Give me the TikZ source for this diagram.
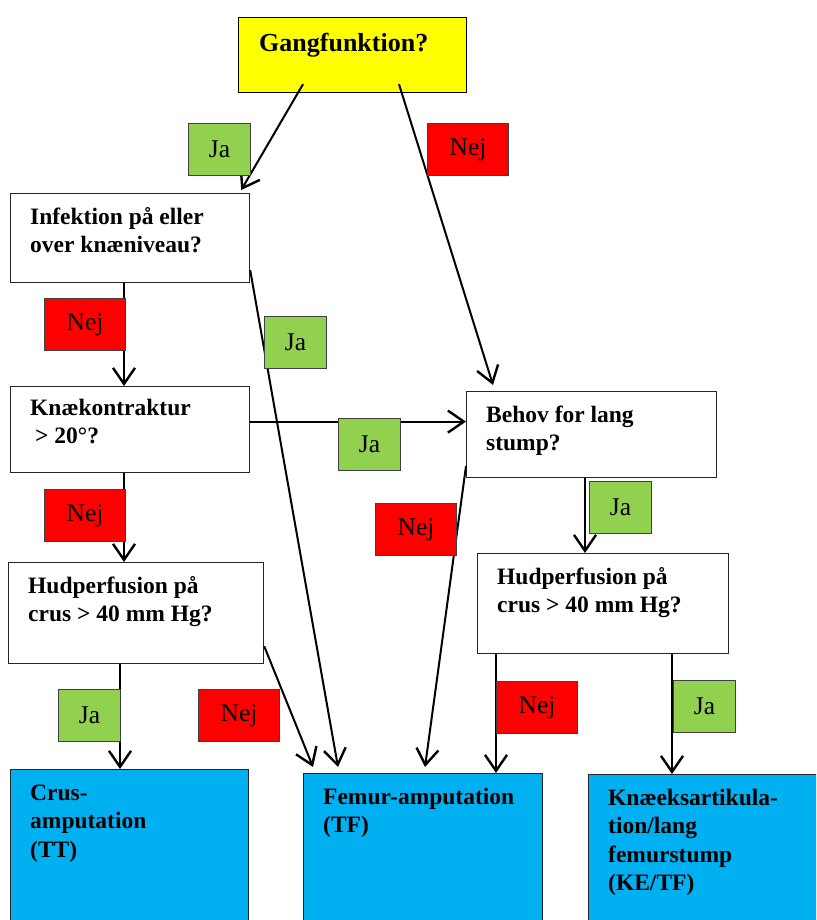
\documentclass[tikz,border=0pt]{standalone}
\usepackage{fontspec}
\setmainfont{Liberation Serif}
\usetikzlibrary{arrows.meta}
\definecolor{gulgul}{HTML}{FFFF00}
\definecolor{jagron}{HTML}{92D050}
\definecolor{nejrod}{HTML}{FF0000}
\definecolor{resbla}{HTML}{00B0F0}
\newcommand{\qfont}{\fontsize{23.5}{28.5}\selectfont\bfseries}
\newcommand{\gfont}{\fontsize{26}{30}\selectfont\bfseries}
\newcommand{\lfont}{\fontsize{25.5}{28}\selectfont}
\newcommand{\qt}[1]{\parbox[t]{300pt}{\raggedright #1}}
\begin{document}
\begin{tikzpicture}[x=1pt,y=-1pt,
  qbox/.style={draw=black!85,line width=1.2pt,fill=white,anchor=north west,inner sep=0pt},
  qtxt/.style={anchor=base west,inner sep=0pt,font=\qfont,xshift=20pt,yshift=-31pt},
  jabox/.style={draw=black!75,line width=1pt,fill=jagron,anchor=north west,inner sep=0pt,
    minimum width=62pt,minimum height=52pt,font=\lfont},
  nejbox/.style={jabox,fill=nejrod,minimum width=81pt},
  flow/.style={line width=2pt,-{Straight Barb[length=16pt,width=22pt,line width=2.4pt]}}]
\useasboundingbox (0,0) rectangle (816,920);
\clip (0,0) rectangle (816,920);
% spoergsmaal
\node[qbox,fill=gulgul,draw=black,minimum width=228pt,minimum height=75pt,
  label={[qtxt,font=\gfont,xshift=1pt,yshift=-4pt]north west:Gangfunktion?}] (gang) at (238,17) {};
\node[qbox,minimum width=239pt,minimum height=89pt,
  label={[qtxt]north west:\qt{Infektion på eller\\over knæniveau?}}] (infek) at (10,193) {};
\node[qbox,minimum width=239pt,minimum height=86pt,
  label={[qtxt,yshift=2pt]north west:\qt{Knækontraktur\\\hspace*{5pt}> 20°?}}] (knae) at (10,386) {};
\node[qbox,minimum width=250pt,minimum height=86pt,
  label={[qtxt]north west:\qt{Behov for lang\\stump?}}] (behov) at (466,391) {};
\node[qbox,minimum width=255pt,minimum height=101pt,
  label={[qtxt]north west:\qt{Hudperfusion på\\crus > 40 mm Hg?}}] (hud1) at (8,562) {};
\node[qbox,minimum width=251pt,minimum height=100pt,
  label={[qtxt]north west:\qt{Hudperfusion på\\crus > 40 mm Hg?}}] (hud2) at (477,553) {};
% resultater
\node[qbox,fill=resbla,minimum width=238pt,minimum height=160pt,
  label={[qtxt]north west:\qt{Crus-\\amputation\\(TT)}}] (crus) at (10,769) {};
\node[qbox,fill=resbla,minimum width=239pt,minimum height=160pt,
  label={[qtxt]north west:\qt{Femur-amputation\\(TF)}}] (femur) at (303,773) {};
\node[qbox,fill=resbla,minimum width=240pt,minimum height=160pt,
  label={[qtxt]north west:\qt{Knæeksartikula-\\tion/lang\\femurstump\\(KE/TF)}}] (kex) at (588,774) {};
% pile
\draw[flow] ([xshift=65pt,yshift=9pt]gang.south west) -- ([xshift=-9pt,yshift=3pt]infek.north east);
\draw[flow] ([xshift=161pt,yshift=9pt]gang.south west) -- ([xshift=27pt,yshift=6pt]behov.north west);
\draw[flow] ([xshift=114pt]infek.south west) -- ([xshift=114pt]knae.north west);
\draw[flow] ([yshift=13pt]infek.south east) -- ([xshift=35pt,yshift=6pt]femur.north west);
\draw[flow] ([yshift=8pt]knae.east) -- ([yshift=8pt]knae.east -| behov.west);
\draw[flow] ([xshift=114pt]knae.south west) -- ([xshift=114pt]knae.south west |- hud1.north);
\draw[flow] ([xshift=119pt]behov.south west) -- ([xshift=119pt]behov.south west |- hud2.north);
\draw[flow] ([yshift=12pt]behov.south west) -- ([xshift=122pt,yshift=6pt]femur.north west);
\draw[flow] ([xshift=112pt]hud1.south west) -- ([xshift=112pt]hud1.south west |- crus.north);
\draw[flow] ([yshift=18pt]hud1.south east) -- ([xshift=10pt,yshift=6pt]femur.north west);
\draw[flow] ([xshift=19pt]hud2.south west) -- ([xshift=19pt]hud2.south west |- femur.north);
\draw[flow] ([xshift=195pt]hud2.south west) -- ([xshift=195pt]hud2.south west |- kex.north);
% ja / nej
\foreach \nm/\x/\y in {ja1/188/123,ja2/264/316,ja3/338/418,ja4/589/481,ja5/58/689,ja6/673/680}
  \node[jabox] (\nm) at (\x,\y) {Ja};
\foreach \nm/\x/\y in {nej1/427/123,nej2/44/298,nej3/375/503,nej4/44/489,nej5/198/689,nej6/496/681}
  \node[nejbox] (\nm) at (\x,\y) {Nej};
\end{tikzpicture}
\end{document}
